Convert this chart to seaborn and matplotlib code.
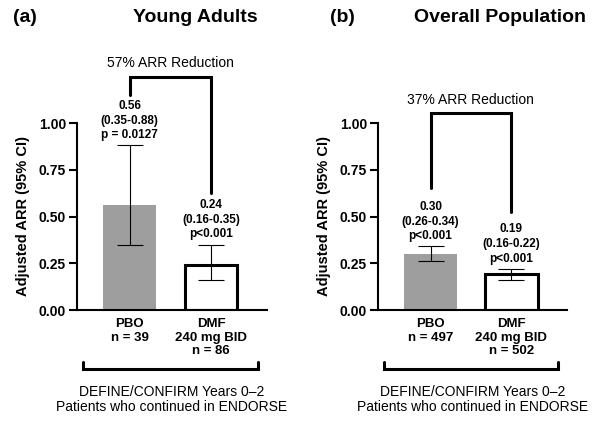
import numpy as np
import pandas as pd
import seaborn as sns
import matplotlib.pyplot as plt

# data
groups = ['PBO', 'DMF']
young_arr = [0.56, 0.24]
young_lo = [0.35, 0.16]
young_hi = [0.88, 0.35]
young_p = ['p = 0.0127', 'p<0.001']
young_n = [39, 86]
overall_arr = [0.30, 0.19]
overall_lo = [0.26, 0.16]
overall_hi = [0.34, 0.22]
overall_p = ['p<0.001', 'p<0.001']
overall_n = [497, 502]
yticks = [0.00, 0.25, 0.50, 0.75, 1.00]

sns.set_theme(style="ticks", rc={"text.color": "black", "axes.labelcolor": "black",
                                 "xtick.color": "black", "ytick.color": "black",
                                 "axes.edgecolor": "black"})
plt.rcParams['font.family'] = ['Liberation Sans', 'DejaVu Sans']

fig = plt.figure(figsize=(6.02, 4.21), dpi=100)
W, H = 602, 421


def panel(ax, arr, lo, hi, pvals, ns, reduction, br_top, br_left, br_right, br_text):
    df = pd.DataFrame({'group': groups, 'arr': arr})
    sns.barplot(data=df, x='group', y='arr', hue='group', palette=['#9e9e9e', 'white'],
                width=0.65, legend=False, ax=ax, errorbar=None)
    # bar outlines: gray has none, DMF black
    ax.patches[0].set_linewidth(0)
    ax.patches[1].set_edgecolor('black')
    ax.patches[1].set_linewidth(2.2)

    x = np.arange(len(groups))
    arr = np.array(arr)
    yerr = [arr - np.array(lo), np.array(hi) - arr]
    ax.errorbar(x, arr, yerr=yerr, fmt='none', ecolor='black', elinewidth=0.8,
                capsize=9.5, capthick=0.8, zorder=5)

    for i in range(len(groups)):
        txt = f"{arr[i]:.2f}\n({lo[i]:.2f}-{hi[i]:.2f})\n{pvals[i]}"
        ax.text(x[i], hi[i] + 0.022, txt, ha='center', va='bottom', fontsize=8.5,
                fontweight='bold', linespacing=1.3)

    ax.set_ylim(0, 1.0)
    ax.set_xlim(-0.65, 1.69)
    ax.set_yticks(yticks)
    ax.set_yticklabels([f"{t:.2f}" for t in yticks], fontsize=10, fontweight='bold')
    ax.set_xticks(x)
    ax.set_xticklabels([f"PBO\nn = {ns[0]}", f"DMF\n240 mg BID\nn = {ns[1]}"],
                       fontsize=9.5, fontweight='bold', linespacing=1.15, va='top')
    ax.tick_params(axis='x', length=0, pad=6)
    ax.tick_params(axis='y', length=6, width=1.5, pad=2)
    ax.set_xlabel('')
    ax.set_ylabel('Adjusted ARR (95% CI)', fontsize=10.5, fontweight='bold', labelpad=6)
    sns.despine(ax=ax)
    for s in ['left', 'bottom']:
        ax.spines[s].set_linewidth(1.5)

    # comparison bracket
    ax.plot([0, 0, 1, 1], [br_left, br_top, br_top, br_right], color='black', lw=2.2,
            clip_on=False, solid_joinstyle='miter')
    ax.text(0.5, br_text, reduction, ha='center', va='center', fontsize=10)

    # bottom bracket and study text
    ax.plot([-0.58, -0.58, 1.58, 1.58], [-0.278, -0.316, -0.316, -0.278], color='black',
            lw=2.2, clip_on=False, solid_joinstyle='miter')
    ax.text(0.52, -0.48, 'DEFINE/CONFIRM Years 0\u20132\nPatients who continued in ENDORSE',
            ha='center', va='center', fontsize=10, linespacing=1.1)


ax1 = fig.add_axes([77 / W, 111 / H, 190 / W, 187 / H])
panel(ax1, young_arr, young_lo, young_hi, young_p, young_n, '57% ARR Reduction',
      1.246, 1.15, 0.626, 1.32)
ax2 = fig.add_axes([378 / W, 111 / H, 189 / W, 187 / H])
panel(ax2, overall_arr, overall_lo, overall_hi, overall_p, overall_n, '37% ARR Reduction',
      1.053, 0.652, 0.524, 1.123)

fig.text(25 / W, 1 - 17 / H, '(a)', fontsize=14, fontweight='bold', ha='center', va='center')
fig.text(195 / W, 1 - 17 / H, 'Young Adults', fontsize=14, fontweight='bold', ha='center', va='center')
fig.text(342 / W, 1 - 17 / H, '(b)', fontsize=14, fontweight='bold', ha='center', va='center')
fig.text(500 / W, 1 - 17 / H, 'Overall Population', fontsize=14, fontweight='bold', ha='center', va='center')

fig.savefig('out.png', dpi=100)
